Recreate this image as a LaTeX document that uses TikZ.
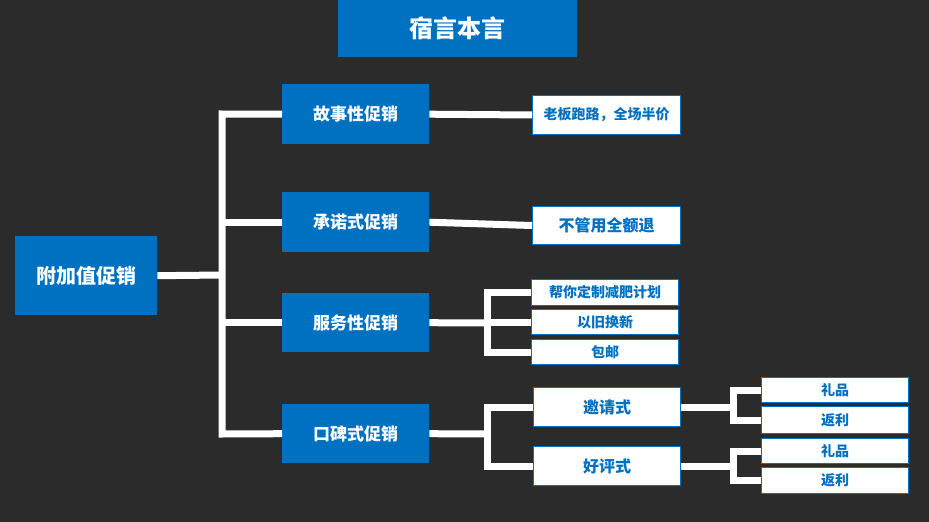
\documentclass[tikz,border=0pt]{standalone}
\usepackage{fontspec}
\setmainfont{Noto Sans CJK SC}
\definecolor{bg}{HTML}{2B2B2B}
\definecolor{bl}{HTML}{0070C0}
\begin{document}
\begin{tikzpicture}[x=1pt,y=-1pt,
 bb/.style={fill=bl,text=white,font=\bfseries,inner sep=0pt,anchor=north west},
 wb/.style={fill=white,draw=bl,line width=1pt,text=bl,font=\bfseries,inner sep=0pt,anchor=north west},
 ln/.style={draw=white,line width=7pt}]
\fill[bg] (0,0) rectangle (929,522);
\useasboundingbox (0,0) rectangle (929,522);
\newcommand{\bx}[7]{\node[#1,minimum width=#4,minimum height=#5,font=\bfseries\fontsize{#6}{#6}\selectfont] (#2) at (#3) {#7};}
\bx{bb}{t}{338,0}{239pt}{57pt}{24}{宿言本言}
\bx{bb}{r}{15,236}{142pt}{79pt}{20}{附加值促销}
\bx{bb}{a}{282,84}{147pt}{60pt}{17}{故事性促销}
\bx{bb}{b}{282,192}{147pt}{60pt}{17}{承诺式促销}
\bx{bb}{c}{282,293}{147pt}{59pt}{17}{服务性促销}
\bx{bb}{d}{282,404}{147pt}{59pt}{17}{口碑式促销}
\bx{wb}{a1}{532,95}{148pt}{39pt}{14}{老板跑路，全场半价}
\bx{wb}{b1}{532,206}{148pt}{38pt}{16}{不管用全额退}
\bx{wb}{c1}{531,279}{147pt}{26pt}{14}{帮你定制减肥计划}
\bx{wb}{c2}{531,309}{147pt}{25pt}{14}{以旧换新}
\bx{wb}{c3}{531,339}{147pt}{25pt}{14}{包邮}
\bx{wb}{d1}{533,387}{147pt}{39pt}{16}{邀请式}
\bx{wb}{d2}{533,446}{147pt}{39pt}{16}{好评式}
\bx{wb}{e1}{761,377}{147pt}{25pt}{14}{礼品}
\bx{wb}{e2}{761,406}{147pt}{27pt}{14}{返利}
\bx{wb}{f1}{761,438}{147pt}{25pt}{14}{礼品}
\bx{wb}{f2}{761,467}{147pt}{26pt}{14}{返利}
\coordinate (j) at (222,275);
\draw[ln] (r.east) -- (j);
\draw[ln] (a.west) -- (222,114) -- (222,434) -- (d.west);
\draw[ln] (b.west) -- (b.west -| j);
\draw[ln] (c.west) -- (c.west -| j);
\draw[ln] (a.east) -- (a1.west);
\draw[ln] (b.east) -- (b1.west);
\coordinate (cj) at (487,323);
\draw[ln] (c.east) -- (cj);
\draw[ln] (c1.west) -- (c1.west -| cj) -- (c3.west -| cj) -- (c3.west);
\draw[ln] (c2.west) -- (c2.west -| cj);
\coordinate (dj) at (487,434);
\draw[ln] (d.east) -- (dj);
\draw[ln] (d1.west) -- (d1.west -| dj) -- (d2.west -| dj) -- (d2.west);
\coordinate (ej) at (733,407);
\draw[ln] (d1.east) -- (ej);
\draw[ln] (e1.west) -- (e1.west -| ej) -- (e2.west -| ej) -- (e2.west);
\coordinate (fj) at (733,466);
\draw[ln] (d2.east) -- (fj);
\draw[ln] (f1.west) -- (f1.west -| fj) -- (f2.west -| fj) -- (f2.west);
\end{tikzpicture}
\end{document}
